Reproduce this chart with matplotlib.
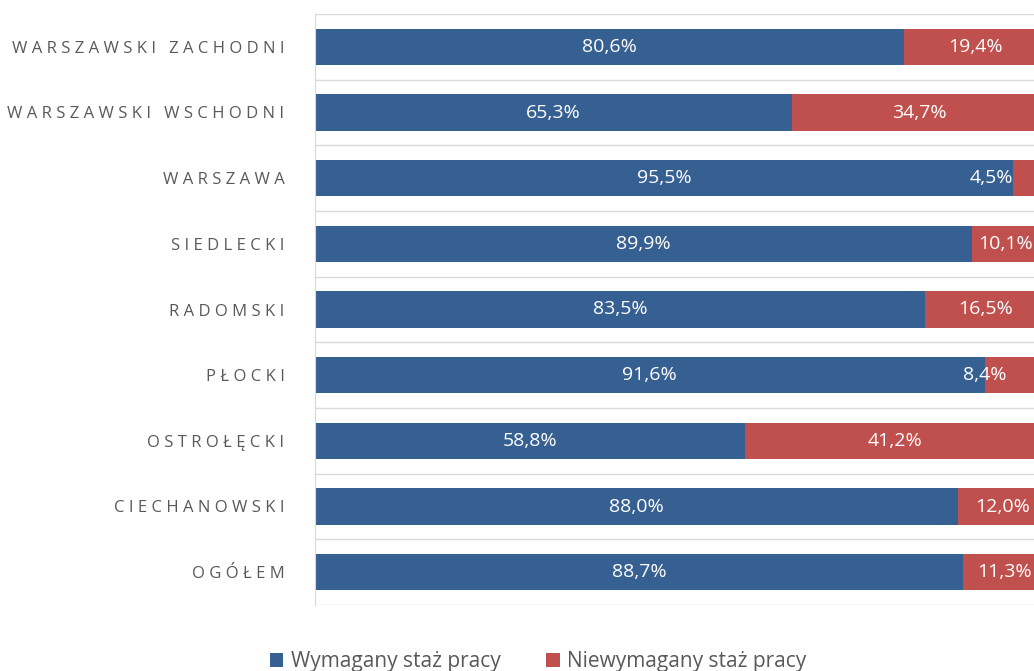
import matplotlib
matplotlib.use("Agg")
import matplotlib.pyplot as plt
import numpy as np

categories = ["WARSZAWSKI ZACHODNI", "WARSZAWSKI WSCHODNI", "WARSZAWA", "SIEDLECKI",
              "RADOMSKI", "PŁOCKI", "OSTROŁĘCKI", "CIECHANOWSKI", "OGÓŁEM"]
wymagany = [80.6, 65.3, 95.5, 89.9, 83.5, 91.6, 58.8, 88.0, 88.7]
niewymagany = [19.4, 34.7, 4.5, 10.1, 16.5, 8.4, 41.2, 12.0, 11.3]
series_names = ["Wymagany staż pracy", "Niewymagany staż pracy"]

blue = "#376092"
red = "#C0504D"
grey_text = "#595959"
grid_col = "#D9D9D9"

plt.rcParams["font.family"] = ["Open Sans", "DejaVu Sans"]


def spaced(s):
    # imitate the letter spacing of the original axis labels
    return "   ".join(" ".join(w) for w in s.split(" "))


def pct(v):
    return f"{v:.1f}%".replace(".", ",")


fig = plt.figure(figsize=(10.34, 6.71), dpi=100)
# plot area runs a little past the right edge, as in the original (cropped) chart
ax = fig.add_axes([315 / 1034, 1 - 605 / 671, 731 / 1034, 591 / 671])

y = np.arange(len(categories))
b1 = ax.barh(y, wymagany, height=0.55, color=blue, label=series_names[0])
b2 = ax.barh(y, niewymagany, left=wymagany, height=0.55, color=red, label=series_names[1])

for bar, v in zip(b1, wymagany):
    ax.text(bar.get_x() + bar.get_width() / 2, bar.get_y() + bar.get_height() / 2, pct(v),
            ha="center", va="center", color="white", fontsize=14)

# labels of the red parts are kept inside the visible picture
x_max = 94.4
for bar, v in zip(b2, niewymagany):
    left = bar.get_x()
    cx = min(left + bar.get_width() / 2, x_max)
    ha = "center"
    if cx < left:
        cx, ha = left, "right"
    elif left + 4 > x_max:
        cx = left
    ax.text(cx, bar.get_y() + bar.get_height() / 2, pct(v),
            ha=ha, va="center", color="white", fontsize=14)

ax.set_xlim(0, 100)
ax.set_ylim(len(categories) - 0.5, -0.5)
ax.set_yticks(y)
ax.set_yticklabels([spaced(c) for c in categories], fontsize=12, color=grey_text)
ax.set_yticks(np.arange(-0.5, len(categories)), minor=True)
ax.tick_params(axis="y", which="both", length=0, pad=22)
ax.set_xticks([])
ax.grid(True, axis="y", which="minor", color=grid_col, linewidth=1)
ax.set_axisbelow(True)
for side in ("top", "right", "bottom"):
    ax.spines[side].set_visible(False)
ax.spines["left"].set_color(grid_col)

fig.legend(handles=[b1, b2], loc="center", bbox_to_anchor=(538 / 1034, 1 - 662 / 671),
           ncol=2, frameon=False, fontsize=15, handlelength=0.65, handleheight=0.65,
           columnspacing=2.2, handletextpad=0.35, labelcolor=grey_text)

fig.savefig("out.png", dpi=100)
